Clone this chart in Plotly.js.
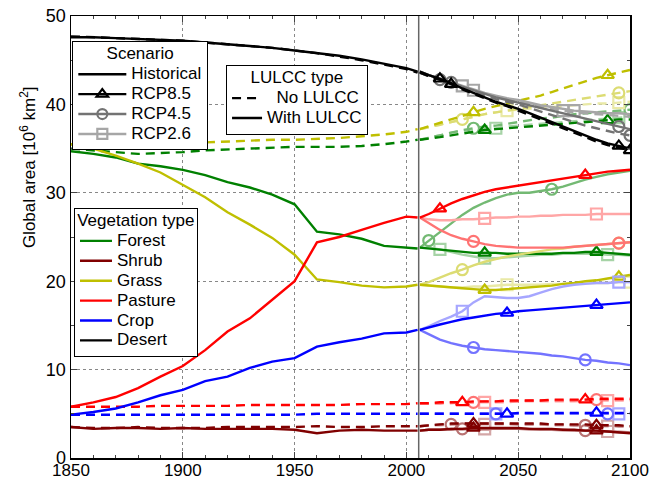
<!DOCTYPE html>
<html>
<head>
<meta charset="utf-8">
<script src="https://cdn.plot.ly/plotly-3.0.1.min.js"></script>
<style>html,body{margin:0;padding:0;background:#fff;}#chart{width:666px;height:483px;}</style>
</head>
<body>
<div id="chart"></div>
<script>
// ---------------- DATA ----------------
const histYears = [1850,1860,1870,1880,1890,1900,1910,1920,1930,1940,1950,1960,1970,1980,1990,2000,2005];
const futYears  = [2006,2010,2015,2020,2025,2030,2035,2040,2045,2050,2055,2060,2065,2070,2075,2080,2085,2090,2095,2100];
const splitYear = 2005.5;

const vegNames = ['Forest','Shrub','Grass','Pasture','Crop','Desert'];
const scenarioNames = ['Historical','RCP8.5','RCP4.5','RCP2.6'];
const lulccNames = ['No LULCC','With LULCC'];

// Forest
const forestHist     = [34.7,34.4,34.0,33.3,33.0,32.6,32.0,31.2,30.6,29.8,28.7,25.6,25.3,24.8,24.0,23.8,23.7];
const forestHistNo   = [35.0,34.8,34.6,34.4,34.5,34.6,34.8,34.9,35.0,35.1,35.2,35.2,35.2,35.3,35.5,35.8,36.0];
const forest85       = [23.8,23.7,23.6,23.5,23.3,23.2,23.2,23.2,23.1,23.1,23.1,23.1,23.1,23.2,23.2,23.3,23.3,23.2,23.1,23.0];
const forest85No     = [36.0,36.1,36.3,36.5,36.7,36.9,37.1,37.2,37.3,37.4,37.5,37.6,37.7,37.8,37.9,38.0,38.1,38.2,38.3,38.3];
const forest45       = [23.8,24.6,25.6,26.6,27.5,28.3,28.9,29.4,29.8,30.0,30.0,30.2,30.4,30.7,31.1,31.5,31.8,32.1,32.3,32.5];
const forest45No     = [36.0,36.2,36.5,36.8,37.1,37.3,37.5,37.6,37.8,38.0,38.2,38.4,38.5,38.7,38.9,39.0,39.1,39.2,39.3,39.4];
const forest26       = [23.8,23.8,23.6,23.3,23.0,22.8,22.6,22.6,22.7,22.8,22.9,23.0,23.0,23.1,23.1,23.1,23.1,23.0,23.0,22.9];
const forest26No     = [36.0,36.2,36.5,36.8,37.0,37.1,37.2,37.3,37.5,37.6,37.7,37.8,37.9,38.0,38.1,38.2,38.3,38.4,38.5,38.6];
// Shrub
const shrubHist      = [3.5,3.3,3.4,3.4,3.3,3.4,3.3,3.3,3.3,3.3,3.2,2.8,3.1,3.2,3.1,3.1,3.1];
const shrubHistNo    = [3.5,3.4,3.4,3.5,3.4,3.4,3.4,3.5,3.5,3.5,3.5,3.6,3.5,3.5,3.6,3.6,3.6];
const shrub85        = [3.1,3.2,3.2,3.3,3.3,3.4,3.4,3.4,3.4,3.4,3.3,3.3,3.3,3.2,3.2,3.1,3.1,3.0,2.9,2.8];
const shrub85No      = [3.6,3.7,3.8,3.9,3.9,3.9,3.9,3.9,3.9,3.9,3.9,3.9,3.8,3.8,3.8,3.8,3.7,3.7,3.7,3.6];
const shrub45        = [3.1,3.2,3.2,3.3,3.3,3.3,3.3,3.3,3.3,3.3,3.3,3.2,3.2,3.2,3.1,3.1,3.0,3.0,2.9,2.9];
const shrub45No      = [3.6,3.7,3.8,3.8,3.9,3.9,3.9,3.9,3.9,3.8,3.8,3.8,3.8,3.8,3.7,3.7,3.7,3.7,3.6,3.6];
const shrub26        = [3.1,3.2,3.2,3.2,3.2,3.3,3.3,3.3,3.3,3.3,3.2,3.2,3.2,3.1,3.1,3.1,3.0,3.0,3.0,2.9];
const shrub26No      = [3.6,3.7,3.7,3.8,3.8,3.8,3.8,3.8,3.8,3.8,3.8,3.8,3.7,3.7,3.7,3.7,3.6,3.6,3.6,3.6];
// Grass
const grassHist      = [35.5,35.0,34.2,33.3,32.3,30.9,29.5,27.8,26.4,24.9,23.0,20.2,19.9,19.5,19.3,19.4,19.6];
const grassHistNo    = [35.5,35.5,35.5,35.5,35.5,35.6,35.7,35.8,35.9,36.0,36.0,36.1,36.2,36.4,36.6,36.9,37.2];
const grass85        = [19.6,19.5,19.4,19.3,19.2,19.1,19.0,19.0,19.1,19.2,19.3,19.4,19.5,19.7,19.8,20.0,20.1,20.3,20.5,20.7];
const grass85No      = [37.2,37.5,37.9,38.3,38.7,39.1,39.5,39.8,40.1,40.4,40.7,41.0,41.4,41.8,42.2,42.6,43.0,43.3,43.6,43.9];
const grass45        = [19.6,19.9,20.4,20.9,21.3,21.8,22.2,22.5,22.8,23.0,23.2,23.4,23.6,23.7,23.9,24.0,24.1,24.2,24.3,24.4];
const grass45No      = [37.2,37.4,37.7,38.0,38.3,38.6,38.9,39.1,39.3,39.5,39.7,39.9,40.1,40.3,40.5,40.7,40.9,41.1,41.3,41.5];
const grass26        = [19.6,19.5,19.4,19.3,19.3,19.4,19.4,19.5,19.6,19.6,19.6,19.6,19.7,19.7,19.7,19.8,19.8,19.8,19.9,19.9];
const grass26No      = [37.2,37.4,37.7,38.0,38.3,38.6,38.9,39.1,39.3,39.4,39.5,39.6,39.7,39.8,39.9,40.0,40.1,40.1,40.2,40.3];
// Pasture
const pastureHist    = [5.8,6.3,6.9,7.9,9.2,10.4,12.2,14.3,15.8,17.9,20.0,24.4,25.0,25.8,26.6,27.3,27.2];
const pastureHistNo  = [5.8,5.8,5.8,5.8,5.9,5.9,5.9,5.9,6.0,6.0,6.0,6.0,6.0,6.1,6.1,6.1,6.2];
const pasture85      = [27.2,27.6,28.2,28.8,29.3,29.7,30.1,30.4,30.6,30.8,31.0,31.2,31.4,31.6,31.8,32.0,32.2,32.4,32.5,32.6];
const pasture85No    = [6.2,6.2,6.3,6.3,6.3,6.4,6.4,6.4,6.5,6.5,6.5,6.5,6.6,6.6,6.6,6.6,6.7,6.7,6.7,6.7];
const pasture45      = [27.2,26.6,25.8,25.2,24.8,24.5,24.2,24.0,23.9,23.8,23.8,23.8,23.8,23.8,23.9,24.0,24.1,24.2,24.3,24.4];
const pasture45No    = [6.2,6.2,6.2,6.3,6.3,6.3,6.4,6.4,6.4,6.4,6.5,6.5,6.5,6.5,6.5,6.6,6.6,6.6,6.6,6.6];
const pasture26      = [27.2,27.0,26.9,26.9,27.0,27.0,27.1,27.2,27.2,27.3,27.3,27.4,27.4,27.5,27.5,27.5,27.6,27.6,27.6,27.6];
const pasture26No    = [6.2,6.2,6.2,6.2,6.3,6.3,6.3,6.3,6.3,6.4,6.4,6.4,6.4,6.4,6.4,6.5,6.5,6.5,6.5,6.5];
// Crop
const cropHist       = [4.9,5.2,5.6,6.3,7.1,7.7,8.7,9.2,10.2,10.9,11.3,12.6,13.1,13.5,14.1,14.2,14.5];
const cropHistNo     = [4.9,4.9,4.9,4.9,4.9,4.9,4.9,4.9,4.9,4.9,4.9,5.0,5.0,5.0,5.0,5.0,5.0];
const crop85         = [14.5,14.8,15.1,15.4,15.7,15.9,16.1,16.3,16.4,16.6,16.7,16.8,16.9,17.0,17.1,17.2,17.3,17.4,17.5,17.6];
const crop85No       = [5.0,5.0,5.0,5.0,5.0,5.0,5.0,5.0,5.0,5.1,5.1,5.1,5.1,5.1,5.1,5.1,5.1,5.1,5.1,5.1];
const crop45         = [14.5,14.0,13.4,13.0,12.7,12.5,12.3,12.2,12.1,12.0,11.9,11.8,11.6,11.5,11.3,11.1,11.0,10.8,10.7,10.5];
const crop45No       = [5.0,5.0,5.0,5.0,5.0,5.0,5.0,5.0,5.0,5.0,5.0,5.0,5.0,5.0,5.0,5.0,5.0,5.0,5.0,5.0];
const crop26         = [14.5,14.9,15.5,16.0,16.6,17.6,18.3,18.2,18.1,18.1,18.3,18.7,19.1,19.4,19.6,19.7,19.8,19.8,19.9,19.9];
const crop26No       = [5.0,5.0,5.0,5.0,5.0,5.0,5.0,5.0,5.0,5.0,5.0,5.0,5.0,5.0,5.0,5.0,5.0,5.0,5.0,5.0];
// Desert
const desertHist     = [47.6,47.6,47.5,47.4,47.3,47.2,47.0,46.8,46.6,46.4,46.1,45.8,45.5,45.1,44.6,44.1,43.7];
const desertHistNo   = [47.7,47.6,47.5,47.4,47.3,47.2,47.0,46.8,46.6,46.4,46.1,45.8,45.4,45.0,44.5,44.0,43.6];
const desert85       = [43.7,43.3,42.9,42.4,41.8,41.3,40.8,40.3,39.9,39.5,39.0,38.5,38.0,37.5,37.0,36.5,36.0,35.6,35.3,35.0];
const desert85No     = [43.6,43.2,42.8,42.3,41.7,41.2,40.7,40.2,39.8,39.3,38.8,38.3,37.8,37.3,36.8,36.3,35.8,35.4,35.1,34.8];
const desert45       = [43.7,43.3,42.9,42.5,42.0,41.6,41.2,40.8,40.5,40.2,39.9,39.6,39.3,39.0,38.7,38.4,38.1,37.8,37.5,37.2];
const desert45No     = [43.6,43.2,42.8,42.3,41.8,41.4,41.0,40.6,40.3,40.0,39.6,39.2,38.8,38.4,38.0,37.6,37.3,37.0,36.7,36.5];
const desert26       = [43.7,43.3,42.9,42.5,42.1,41.7,41.3,41.0,40.7,40.5,40.2,39.9,39.7,39.5,39.3,39.2,39.1,39.0,39.0,38.9];
const desert26No     = [43.6,43.2,42.8,42.4,42.0,41.6,41.2,40.9,40.6,40.3,40.0,39.7,39.5,39.3,39.1,39.0,38.9,38.8,38.7,38.6];

// ---------------- STYLE ----------------
const vegRGB = {Forest:[0,128,0], Shrub:[128,0,0], Grass:[191,191,0], Pasture:[255,0,0], Crop:[0,0,255], Desert:[0,0,0]};
const scenMix = {'RCP8.5':1.0, 'RCP4.5':0.55, 'RCP2.6':0.35, 'Historical':1.0};
const scenSymbol = {'RCP8.5':'triangle-up-open', 'RCP4.5':'circle-open', 'RCP2.6':'square-open'};
// marker positions (indices into futYears) for [with LULCC, no LULCC]
const markerIdx = {
  Forest:  {'RCP8.5':[[6,16],[6,17]], 'RCP4.5':[[1,12],[5,19]], 'RCP2.6':[[2,6,17],[7,18]]},
  Shrub:   {'RCP8.5':[[5,16],[5,16]], 'RCP4.5':[[4,15],[3,15]], 'RCP2.6':[[6,17],[6,17]]},
  Grass:   {'RCP8.5':[[6,18],[5,17]], 'RCP4.5':[[4,18],[4,18]], 'RCP2.6':[[8,19],[8,18]]},
  Pasture: {'RCP8.5':[[2,15],[4,15]], 'RCP4.5':[[5,18],[5,16]], 'RCP2.6':[[6,16],[6,17]]},
  Crop:    {'RCP8.5':[[8,16],[8,16]], 'RCP4.5':[[5,15],[7,17]], 'RCP2.6':[[4,18],[7,18]]},
  Desert:  {'RCP8.5':[[2,18],[3,19]], 'RCP4.5':[[3,18],[2,19]], 'RCP2.6':[[4,14],[5,13]]}
};

const DATA = {
  Forest:  {hist:[forestHist,forestHistNo], 'RCP8.5':[forest85,forest85No], 'RCP4.5':[forest45,forest45No], 'RCP2.6':[forest26,forest26No]},
  Shrub:   {hist:[shrubHist,shrubHistNo], 'RCP8.5':[shrub85,shrub85No], 'RCP4.5':[shrub45,shrub45No], 'RCP2.6':[shrub26,shrub26No]},
  Grass:   {hist:[grassHist,grassHistNo], 'RCP8.5':[grass85,grass85No], 'RCP4.5':[grass45,grass45No], 'RCP2.6':[grass26,grass26No]},
  Pasture: {hist:[pastureHist,pastureHistNo], 'RCP8.5':[pasture85,pasture85No], 'RCP4.5':[pasture45,pasture45No], 'RCP2.6':[pasture26,pasture26No]},
  Crop:    {hist:[cropHist,cropHistNo], 'RCP8.5':[crop85,crop85No], 'RCP4.5':[crop45,crop45No], 'RCP2.6':[crop26,crop26No]},
  Desert:  {hist:[desertHist,desertHistNo], 'RCP8.5':[desert85,desert85No], 'RCP4.5':[desert45,desert45No], 'RCP2.6':[desert26,desert26No]}
};

function shade(rgb, f){
  const c = rgb.map(v => Math.round(v*f + 255*(1-f)));
  return 'rgb(' + c.join(',') + ')';
}
const LW = 2.4;
const DASH = '9px,6px';
const TXT = 17;   // visible legend text size
const big = s => '<span style="font-size:' + TXT + 'px">' + s + '</span>';

const traces = [];
const scenOrder = ['RCP2.6','RCP4.5','RCP8.5'];
vegNames.forEach(v => {
  scenOrder.forEach(s => {
    const col = shade(vegRGB[v], scenMix[s]);
    [1,0].forEach(k => { // 1 = no LULCC (dashed), 0 = with LULCC (solid)
      const y = DATA[v][s][k];
      traces.push({x:futYears, y:y, type:'scatter', mode:'lines', showlegend:false, hoverinfo:'skip',
        line:{color:col, width:LW, dash: k===1 ? DASH : 'solid'}});
      const idx = markerIdx[v][s][k];
      traces.push({x:idx.map(i=>futYears[i]), y:idx.map(i=>y[i]), type:'scatter', mode:'markers', showlegend:false, hoverinfo:'skip',
        marker:{symbol:scenSymbol[s], size:11, color:col, line:{color:col, width:2.2}}});
    });
  });
  const colH = shade(vegRGB[v], 1);
  traces.push({x:histYears, y:DATA[v].hist[1], type:'scatter', mode:'lines', showlegend:false, hoverinfo:'skip',
    line:{color:colH, width:LW, dash:DASH}});
  traces.push({x:histYears, y:DATA[v].hist[0], type:'scatter', mode:'lines', showlegend:false, hoverinfo:'skip',
    line:{color:colH, width:LW}});
});

// legend entries
scenarioNames.forEach(s => {
  const col = shade([0,0,0], scenMix[s]);
  const t = {x:[null], y:[null], type:'scatter', name:big(s), legend:'legend', showlegend:true,
    mode: s==='Historical' ? 'lines' : 'lines+markers', line:{color:col, width:LW}};
  if (s !== 'Historical') t.marker = {symbol:scenSymbol[s], size:10, color:col, line:{color:col, width:2.2}};
  traces.push(t);
});
lulccNames.forEach((n,i) => {
  traces.push({x:[null], y:[null], type:'scatter', mode:'lines', name:big((i===0 ? '\u00a0\u00a0' : '') + n), legend:'legend2', showlegend:true,
    line:{color:'black', width:LW, dash: i===0 ? DASH : 'solid'}});
});
vegNames.forEach(v => {
  traces.push({x:[null], y:[null], type:'scatter', mode:'lines', name:big(v), legend:'legend3', showlegend:true,
    line:{color:shade(vegRGB[v],1), width:LW}});
});

const FONT = '"Liberation Sans", Arial, Helvetica, sans-serif';
const LFS = 13;  // legend row spacing base
const legendBase = {bgcolor:'white', bordercolor:'black', borderwidth:1.2, font:{family:FONT, size:LFS, color:'black'},
  xanchor:'left', yanchor:'top', tracegroupgap:0, traceorder:'normal'};

const layout = {
  width:666, height:483,
  margin:{l:71, r:36, t:16, b:25},
  paper_bgcolor:'white', plot_bgcolor:'white',
  font:{family:FONT, size:18, color:'black'},
  showlegend:true,
  xaxis:{range:[1850,2100], tickvals:[1850,1900,1950,2000,2050,2100], ticks:'inside', ticklen:6, tickwidth:1,
    showline:true, linecolor:'black', linewidth:1.5, mirror:'allticks', zeroline:false,
    showgrid:true, gridcolor:'#888', griddash:'dot', gridwidth:1,
    minor:{dtick:10, tick0:1850, ticks:'inside', ticklen:3, showgrid:false},
    tickfont:{size:17}, ticklabelstandoff:-4},
  yaxis:{range:[0,50], tickvals:[0,10,20,30,40,50], ticks:'inside', ticklen:6, tickwidth:1,
    showline:true, linecolor:'black', linewidth:1.5, mirror:'allticks', zeroline:false,
    showgrid:true, gridcolor:'#888', griddash:'dot', gridwidth:1,
    minor:{dtick:5, ticks:'inside', ticklen:3, showgrid:false},
    tickfont:{size:18}},
  legend:  Object.assign({}, legendBase, {x:0.002, y:0.943, itemwidth:48, title:{text:big('Scenario'), side:'top center', font:{size:LFS}}}),
  legend2: Object.assign({}, legendBase, {x:0.277, y:0.889, itemwidth:30, title:{text:big('LULCC type'), side:'top center', font:{size:LFS}}}),
  legend3: Object.assign({}, legendBase, {x:0.005, y:0.566, itemwidth:32, title:{text:big('Vegetation type'), side:'top center', font:{size:LFS}}}),
  shapes:[{type:'line', xref:'x', yref:'paper', x0:splitYear, x1:splitYear, y0:0, y1:1, layer:'below',
    line:{color:'#666', width:1.5}}],
  annotations:[{xref:'paper', yref:'paper', x:-0.077, y:0.658, textangle:-90, showarrow:false,
    xanchor:'center', yanchor:'middle', text:'Global area [10<sup>6</sup> km<sup>2</sup>]', font:{size:17}}]
};

Plotly.newPlot('chart', traces, layout, {staticPlot:true, displayModeBar:false});
</script>
</body>
</html>
